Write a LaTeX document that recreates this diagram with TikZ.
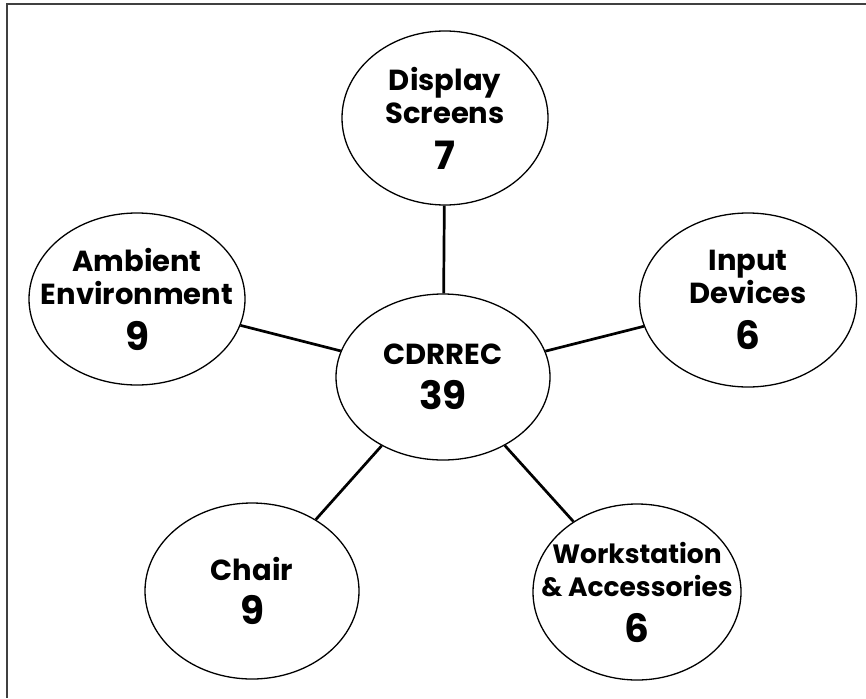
\documentclass[tikz,border=0pt]{standalone}
\usepackage{fontspec}
\setmainfont{Poppins}
\usetikzlibrary{shapes.geometric}

\newcommand{\bignum}[1]{{\fontsize{39}{40}\selectfont #1}}

\begin{document}
\begin{tikzpicture}[x=1pt,y=-1pt,line width=1.3pt,
    font=\fontsize{29}{33}\selectfont\bfseries]
  % negative inner sep so the ellipse keeps its set size around long text
  \tikzstyle{topic}=[ellipse,draw=black,fill=white,inner xsep=-50pt,inner ysep=-30pt,align=center]
  \tikzstyle{link}=[line width=2.7pt]

  \useasboundingbox (0,0) rectangle (866,698);
  % frame, only top and left sides show
  \draw[line width=2.2pt,black!75] (866,4) -- (7,4) -- (7,698);

  \node[topic,minimum width=214pt,minimum height=166pt] (c)  at (443,377) {CDRREC\\[12pt]\bignum{39}};
  \node[topic,minimum width=206pt,minimum height=174pt] (ds) at (445,118) {Display\\Screens\\[13pt]\bignum{7}};
  \node[topic,minimum width=216pt,minimum height=172pt] (ae) at (137,299) {Ambient\\Environment\\[13pt]\bignum{9}};
  \node[topic,minimum width=217pt,minimum height=174pt] (id) at (748,300) {Input\\Devices\\[13pt]\bignum{6}};
  \node[topic,minimum width=214pt,minimum height=176pt] (ch) at (252,591) {Chair\\[11pt]\bignum{9}};
  \node[topic,minimum width=208pt,minimum height=176pt,font=\fontsize{26.5}{33}\selectfont\bfseries]
    (ws) at (637,592) {Workstation\\\& Accessories\\[13pt]\bignum{6}};

  \path[link]
  (c) edge (ds)
      edge (ae)
      edge (id)
      edge (ch)
      edge (ws);
\end{tikzpicture}
\end{document}
